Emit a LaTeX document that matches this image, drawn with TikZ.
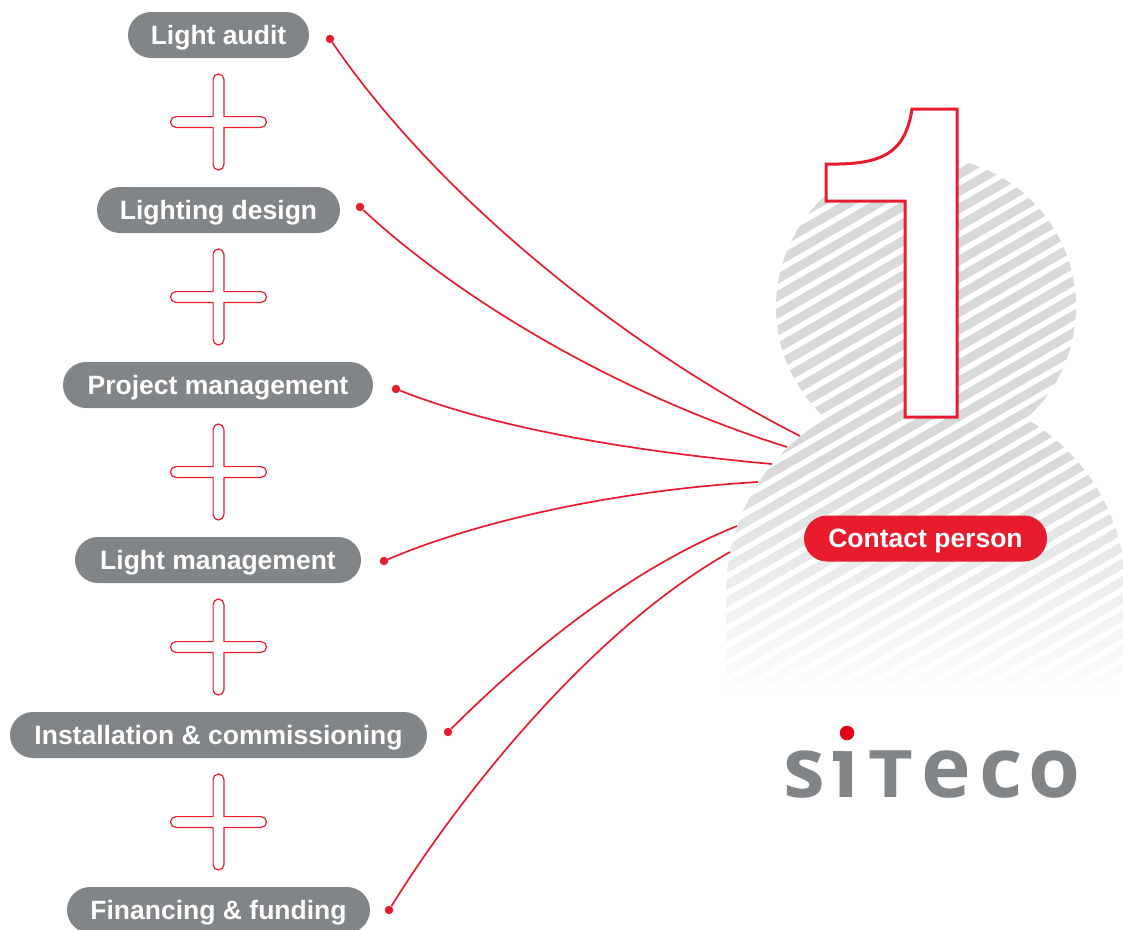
\documentclass[tikz,border=0pt]{standalone}
\usepackage{fontspec}
\setmainfont{Liberation Sans}
\newfontfamily\logofont{Open Sans}
\usetikzlibrary{shapes.misc}
\definecolor{sitecored}{HTML}{E91C2E}
\definecolor{logored}{HTML}{E3001B}
\definecolor{pillgray}{HTML}{828588}
\definecolor{stripegray}{HTML}{D8DADA}
\tikzset{
  pill/.style={rounded rectangle, fill=pillgray, text=white, minimum height=46pt,
    inner xsep=0pt, inner ysep=0pt, text height=22pt, text depth=3.5pt,
    font=\bfseries\fontsize{26.5}{30}\selectfont},
  reddot/.style={circle, fill=sitecored, inner sep=0pt, minimum size=8.5pt},
  redline/.style={draw=sitecored, line width=1.7pt},
  plusline/.style={draw=sitecored, line width=1.2pt},
  pics/plusmark/.style={code={
    \draw[plusline] (-5.4,-5.4) -- (-5.4,-42.6) arc[start angle=180,end angle=360,radius=5.4]
      -- (5.4,-5.4) -- (42.6,-5.4) arc[start angle=270,end angle=450,radius=5.4]
      -- (5.4,5.4) -- (5.4,42.6) arc[start angle=0,end angle=180,radius=5.4]
      -- (-5.4,5.4) -- (-42.6,5.4) arc[start angle=90,end angle=270,radius=5.4] -- cycle;
  }}
}
\begin{document}
\begin{tikzpicture}[x=1pt,y=-1pt]
  \useasboundingbox (0,0) rectangle (1123,929);
  % person
  \begin{scope}
    \clip (926,307) circle (150) (926,592) circle (200)
      (726,592) -- (1126,592) -- (1126,700) -- (726,700) -- cycle;
    \clip (700,150) rectangle (1150,700);
    \clip \foreach \k in {0,...,50} {
      (700,{\k*17.3+162.7}) -- (1150,{\k*17.3-97.3}) -- (1150,{\k*17.3-86.8}) -- (700,{\k*17.3+173.2}) -- cycle
    };
    \fill[stripegray] (700,150) rectangle (1150,460);
    \shade[top color=stripegray, bottom color=white] (700,460) rectangle (1150,700);
  \end{scope}
  % big one
  \draw[draw=sitecored, fill=white, line width=3pt, line join=miter]
    (912,109) -- (957,109) -- (957,417) -- (905,417) -- (905,201) -- (826,201) -- (826,164)
    .. controls (880,165) and (905,155) .. (912,109) -- cycle;
  % offers
  \node[pill, minimum width=181pt] (lightaudit) at (218.5,35) {Light audit};
  \node[pill, minimum width=243pt] (lightingdesign) at (218.5,210) {Lighting design};
  \node[pill, minimum width=310pt] (projectmanagement) at (218,385) {Project management};
  \node[pill, minimum width=286pt] (lightmanagement) at (218,560) {Light management};
  \node[pill, minimum width=417pt] (installation) at (218.5,735) {Installation \& commissioning};
  \node[pill, minimum width=303pt] (financing) at (218.5,910) {Financing \& funding};
  \pic at (218.5,122) {plusmark};
  \pic at (218.5,297) {plusmark};
  \pic at (218.5,472) {plusmark};
  \pic at (218.5,647) {plusmark};
  \pic at (218.5,822) {plusmark};
  \node[pill, fill=sitecored, minimum width=243pt] (contact) at (925.5,538.5) {Contact person};
  % connectors
  \node[reddot] (auditdot) at (330,39) {};
  \node[reddot] (designdot) at (360,207) {};
  \node[reddot] (projectdot) at (396,389) {};
  \node[reddot] (managementdot) at (384,561) {};
  \node[reddot] (installdot) at (448,732) {};
  \node[reddot] (fundingdot) at (389,910) {};
  \coordinate (auditend) at (800,436);
  \coordinate (designend) at (787,447);
  \coordinate (projectend) at (772,464);
  \coordinate (managementend) at (758,482);
  \coordinate (installend) at (737,526);
  \coordinate (fundingend) at (730,552);
  \draw[redline] (auditdot) .. controls (440,200) and (630,350) .. (auditend);
  \draw[redline] (designdot) .. controls (460,300) and (620,395) .. (designend);
  \draw[redline] (projectdot) .. controls (500,430) and (640,452) .. (projectend);
  \draw[redline] (managementdot) .. controls (480,520) and (620,490) .. (managementend);
  \draw[redline] (installdot) .. controls (540,640) and (640,565) .. (installend);
  \draw[redline] (fundingdot) .. controls (470,780) and (600,625) .. (fundingend);
  % logo
  \begin{scope}
    \clip (780,749) rectangle (1085,805);
    \node[text=pillgray, anchor=base west, inner sep=0pt, font=\logofont\bfseries\fontsize{84}{90}\selectfont]
      (logo) at (783.6,797) {s\kern8.3pt i\kern9.1pt \scalebox{0.92}[0.78]{T}\kern7.9pt e\kern8.4pt c\kern5.8pt o};
  \end{scope}
  \fill[pillgray] (833,751) rectangle (843,761);
  \node[circle, fill=logored, inner sep=0pt, minimum size=14.5pt] (logodot) at (847,733) {};
\end{tikzpicture}
\end{document}
